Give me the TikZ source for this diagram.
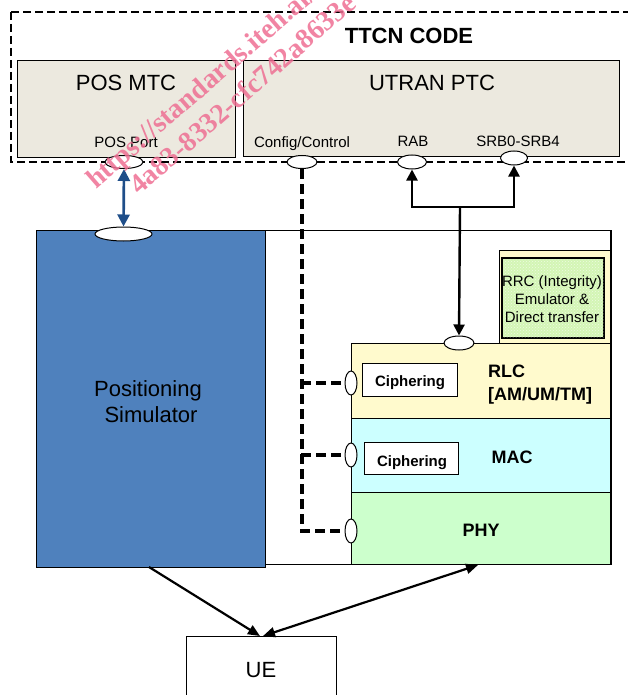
\documentclass[tikz,border=0pt]{standalone}
\usepackage{fontspec}
\setmainfont{Liberation Sans}
\newfontfamily\wmfont{Liberation Serif}
\usetikzlibrary{arrows.meta,shapes.geometric,patterns}
\definecolor{beige}{HTML}{ECE9DF}
\definecolor{simblue}{HTML}{4F81BD}
\definecolor{rlcyel}{HTML}{FFFACD}
\definecolor{maccyan}{HTML}{CCFFFF}
\definecolor{phygreen}{HTML}{CCFFCC}
\definecolor{rrcgreen}{HTML}{D3F5B5}
\definecolor{arrblue}{HTML}{1F4E89}
\definecolor{wmpink}{HTML}{EE6F93}
\begin{document}
\begin{tikzpicture}[x=1pt,y=-1pt,
  box/.style={draw=black, line width=1.1pt, inner sep=0pt, anchor=north west},
  port/.style={ellipse, draw=black, fill=white, line width=1pt, inner sep=0pt},
  bigt/.style={font=\fontsize{22}{26}\selectfont, inner sep=0pt},
  smallt/.style={font=\fontsize{15}{18}\selectfont, inner sep=0pt},
  boldt/.style={font=\bfseries\fontsize{18}{22}\selectfont, inner sep=0pt},
  ciph/.style={font=\bfseries\fontsize{15}{18}\selectfont, inner sep=0pt},
  ctrl/.style={line width=3.2pt, dash pattern=on 10pt off 5pt},
  arr/.style={line width=2.4pt, -{Triangle[length=11pt,width=11pt]}},
  wm/.style={font=\wmfont\bfseries\fontsize{28}{30}\selectfont, text=wmpink, opacity=0.85, inner sep=0pt, anchor=base west, rotate=41}
]
\useasboundingbox (0,0) rectangle (628,695);
\clip (0,0) rectangle (628,695);

% TTCN code area
\draw[line width=2.2pt, dash pattern=on 8pt off 4pt] (11,12) rectangle (645,162);
\node[font=\bfseries\fontsize{22}{26}\selectfont, inner sep=0pt, anchor=base] (ttcn) at (409,44) {TTCN CODE};

\node[box, fill=beige, minimum width=218pt, minimum height=97pt] (mtc) at (17,60) {};
\node[box, fill=beige, minimum width=376pt, minimum height=96pt] (ptc) at (243,60) {};
\node[bigt, anchor=base] (mtct) at (126,91) {POS MTC};
\node[bigt, anchor=base] (ptct) at (432,91) {UTRAN PTC};
\node[smallt, anchor=base] (posportt) at (126,148) {POS Port};
\node[smallt, anchor=base] (cfgt) at (302,148) {Config/Control};
\node[smallt, anchor=base] (rabt) at (413,147) {RAB};
\node[smallt, anchor=base] (srbt) at (518,147) {SRB0-SRB4};

% SS area
\node[box, fill=white, line width=1.4pt, minimum width=348pt, minimum height=334pt] (ss) at (263,230) {};
\node[box, fill=simblue, line width=1.4pt, minimum width=229pt, minimum height=337pt] (sim) at (36,230) {};
\node[bigt, anchor=base] (simt1) at (148,396) {Positioning};
\node[bigt, anchor=base] (simt2) at (151,422) {Simulator};

\node[box, fill=rlcyel, line width=0.8pt, minimum width=112pt, minimum height=94pt] (rrcout) at (499,250) {};
\node[box, fill=rrcgreen, line width=1.2pt, minimum width=101pt, minimum height=79pt] (rrc) at (502,258) {};
\fill[pattern=crosshatch dots, pattern color=white!60!rrcgreen] (rrc.north west) rectangle (rrc.south east);
\draw[line width=1.2pt] (rrc.north west) rectangle (rrc.south east);
\node[smallt, anchor=base] (rrct1) at (552,286) {RRC (Integrity)};
\node[smallt, anchor=base] (rrct2) at (552,304) {Emulator \&};
\node[smallt, anchor=base] (rrct3) at (552,322) {Direct transfer};

\node[box, fill=rlcyel, minimum width=260pt, minimum height=75pt] (rlc) at (351,343) {};
\node[box, fill=maccyan, minimum width=260pt, minimum height=74pt] (mac) at (351,418) {};
\node[box, fill=phygreen, minimum width=260pt, minimum height=72pt] (phy) at (351,492) {};
\draw[line width=1.6pt] (611,230) -- (611,564);

\node[box, fill=white, minimum width=95pt, minimum height=33pt] (ciph1) at (362,363) {};
\node[ciph, anchor=base] (ciph1t) at (410,386) {Ciphering};
\node[box, fill=white, minimum width=94pt, minimum height=32pt] (ciph2) at (364,442) {};
\node[ciph, anchor=base] (ciph2t) at (412,466) {Ciphering};

\node[boldt, anchor=base west] (rlct1) at (488,377) {RLC};
\node[boldt, anchor=base west] (rlct2) at (488,400) {[AM/UM/TM]};
\node[boldt, anchor=base] (mact) at (512,463) {MAC};
\node[boldt, anchor=base] (phyt) at (481,536) {PHY};

% ports
\node[port, minimum width=38pt, minimum height=13pt] (posport) at (124,162) {};
\node[port, minimum width=30pt, minimum height=13pt] (cfg) at (302,162) {};
\node[port, minimum width=29pt, minimum height=14pt] (rab) at (412,162) {};
\node[port, minimum width=27pt, minimum height=14pt] (srb) at (514,158) {};
\node[port, minimum width=57pt, minimum height=14pt] (simtop) at (123.5,234) {};
\node[port, minimum width=30pt, minimum height=14pt] (rlctop) at (459,343) {};
\node[port, minimum width=12pt, minimum height=24pt] (rlcl) at (351,383) {};
\node[port, minimum width=12pt, minimum height=24pt] (macl) at (351,455) {};
\node[port, minimum width=12pt, minimum height=24pt] (phyl) at (351,531) {};

% UE
\node[box, fill=white, minimum width=150pt, minimum height=80pt] (ue) at (186,636) {};
\node[bigt, anchor=base] (uet) at (261,677) {UE};

% connectors
\draw[arrblue, line width=2.7pt, {Triangle[length=12pt,width=12pt]}-{Triangle[length=12pt,width=12pt]}] (posport.south) -- (simtop.north);

\coordinate (junc) at (460,207);
\draw[arr] (junc) -- (rlctop.north);
\draw[arr] (junc) -| (rab.south);
\draw[arr] (junc) -| (srb.south);

\draw[ctrl] (cfg.south) -- (302,531) -- (phyl.west);
\draw[ctrl] (301,383) -- (rlcl.west);
\draw[ctrl] (301,455) -- (macl.west);

\coordinate (simout) at (149,567);
\coordinate (phyin) at (478,565);
\draw[line width=2.2pt, -{Triangle[length=12pt,width=10pt]}] (simout) -- (260,636);
\draw[line width=2.2pt, {Triangle[length=12pt,width=10pt]}-{Triangle[length=12pt,width=10pt]}] (263,636) -- (phyin);

% watermark
\node[wm] (wm1) at (96,190) {https://standards.iteh.ai/};
\node[wm] (wm2) at (139,196) {4a83-8332-cfc742a8633e};
\end{tikzpicture}
\end{document}
